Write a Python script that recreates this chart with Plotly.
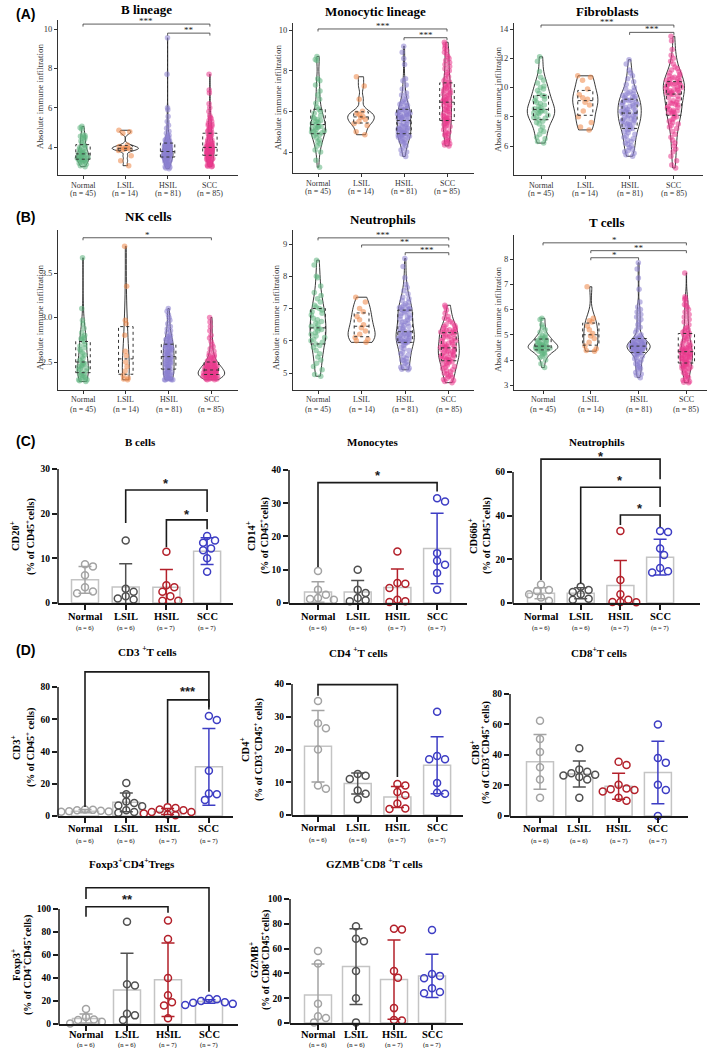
import numpy as np
import plotly.graph_objects as go

W, H = 709, 1048
GROUPS = ["Normal", "LSIL", "HSIL", "SCC"]
N_VIOLIN = ["(n = 45)", "(n = 14)", "(n = 81)", "(n = 85)"]
N_BAR = ["(n = 6)", "(n = 6)", "(n = 7)", "(n = 7)"]

VIOLIN_COLORS = ["#5fb47f", "#ef8747", "#8a7fd0", "#e9388c"]
BAR_COLORS = ["#a3a3a3", "#505050", "#b3202a", "#3d3dc4"]

# ---------------- Violin data (absolute immune infiltration) ----------------
BL_NORMAL = [5.05, 4.98, 4.9, 4.62, 4.58, 4.55, 4.5, 4.45, 4.38, 4.3, 4.2, 4.12, 4.05, 4.0, 3.95, 3.9, 3.85, 3.8,
             3.76, 3.72, 3.7, 3.68, 3.65, 3.62, 3.6, 3.58, 3.55, 3.52, 3.5, 3.48, 3.45, 3.43, 3.4, 3.38, 3.36, 3.34,
             3.32, 3.3, 3.28, 3.25, 3.22, 3.18, 3.12, 3.05, 3.0]
BL_LSIL = [4.85, 4.78, 4.7, 4.1, 4.02, 3.98, 3.95, 3.92, 3.9, 3.87, 3.82, 3.55, 3.3, 3.05]
BL_HSIL = [9.55, 7.7, 6.0, 5.9, 5.55, 5.3, 5.1, 4.95, 4.8, 4.7, 4.6, 4.55, 4.5, 4.45, 4.4, 4.35, 4.3, 4.28, 4.25,
           4.22, 4.2, 4.18, 4.15, 4.12, 4.1, 4.08, 4.05, 4.02, 4.0, 3.98, 3.95, 3.92, 3.9, 3.88, 3.85, 3.83, 3.82,
           3.8, 3.8, 3.78, 3.77, 3.76, 3.74, 3.72, 3.7, 3.68, 3.66, 3.64, 3.62, 3.6, 3.58, 3.57, 3.56, 3.55, 3.54,
           3.53, 3.52, 3.51, 3.5, 3.5, 3.49, 3.45, 3.4, 3.38, 3.35, 3.3, 3.28, 3.25, 3.2, 3.15, 3.1, 3.08, 3.05,
           3.0, 2.97, 2.93, 2.9, 3.45, 3.35, 3.22, 3.12]
BL_SCC = [7.7, 6.9, 6.75, 6.2, 6.0, 5.8, 5.6, 5.5, 5.45, 5.35, 5.3, 5.2, 5.15, 5.1, 5.05, 5.0, 4.95, 4.9, 4.85,
          4.8, 4.75, 4.7, 4.65, 4.6, 4.55, 4.5, 4.45, 4.4, 4.35, 4.3, 4.25, 4.2, 4.18, 4.15, 4.12, 4.1, 4.08, 4.05,
          4.03, 4.02, 4.01, 4.0, 3.98, 3.96, 3.94, 3.92, 3.9, 3.88, 3.86, 3.84, 3.82, 3.8, 3.78, 3.76, 3.74, 3.72,
          3.7, 3.68, 3.66, 3.64, 3.62, 3.61, 3.6, 3.58, 3.55, 3.52, 3.5, 3.48, 3.45, 3.42, 3.4, 3.38, 3.35, 3.32,
          3.3, 3.28, 3.25, 3.2, 3.15, 3.12, 3.1, 3.07, 3.04, 3.02, 3.0]

MO_NORMAL = [8.7, 8.55, 8.5, 7.6, 7.5, 7.3, 7.0, 6.8, 6.6, 6.4, 6.2, 6.1, 6.0, 5.9, 5.8, 5.7, 5.65, 5.6, 5.55, 5.5,
             5.45, 5.4, 5.35, 5.28, 5.25, 5.2, 5.18, 5.15, 5.1, 5.05, 5.0, 4.98, 4.95, 4.9, 4.85, 4.8, 4.7, 4.6,
             4.5, 4.4, 4.3, 4.1, 4.0, 3.6, 3.25]
MO_LSIL = [7.7, 7.25, 6.6, 6.0, 5.9, 5.85, 5.75, 5.7, 5.6, 5.5, 5.4, 5.3, 5.0, 4.85]
MO_HSIL = [9.2, 8.9, 8.6, 8.3, 7.6, 7.5, 7.3, 7.1, 6.9, 6.8, 6.7, 6.6, 6.5, 6.45, 6.4, 6.35, 6.3, 6.25, 6.2, 6.15,
           6.1, 6.08, 6.05, 6.0, 5.98, 5.95, 5.92, 5.9, 5.87, 5.85, 5.82, 5.8, 5.78, 5.75, 5.72, 5.7, 5.68, 5.65,
           5.62, 5.6, 5.55, 5.5, 5.45, 5.4, 5.35, 5.3, 5.27, 5.25, 5.2, 5.17, 5.15, 5.12, 5.1, 5.07, 5.05, 5.02,
           5.0, 4.97, 4.95, 4.92, 4.9, 4.88, 4.85, 4.82, 4.8, 4.77, 4.75, 4.72, 4.7, 4.65, 4.6, 4.55, 4.5, 4.45,
           4.4, 4.3, 4.2, 4.1, 4.0, 3.9, 3.78]
MO_SCC = [9.4, 9.3, 9.2, 9.1, 9.0, 8.9, 8.8, 8.7, 8.6, 8.5, 8.4, 8.3, 8.2, 8.1, 8.0, 7.9, 7.8, 7.7, 7.6, 7.5, 7.45,
          7.4, 7.35, 7.3, 7.25, 7.2, 7.15, 7.1, 7.05, 7.0, 6.95, 6.9, 6.85, 6.8, 6.75, 6.7, 6.65, 6.6, 6.57, 6.54,
          6.52, 6.5, 6.45, 6.4, 6.35, 6.3, 6.25, 6.2, 6.15, 6.1, 6.05, 6.0, 5.95, 5.9, 5.85, 5.8, 5.75, 5.7, 5.67,
          5.65, 5.62, 5.6, 5.58, 5.55, 5.5, 5.45, 5.4, 5.35, 5.3, 5.25, 5.2, 5.1, 5.0, 4.95, 4.9, 4.85, 4.8, 4.7,
          4.6, 4.55, 4.5, 4.45, 4.4, 4.35, 4.3]

FB_NORMAL = [12.1, 11.8, 11.1, 10.7, 10.5, 10.3, 10.1, 10.0, 9.9, 9.8, 9.6, 9.45, 9.4, 9.3, 9.2, 9.1, 9.0, 8.9,
             8.8, 8.7, 8.6, 8.55, 8.5, 8.45, 8.4, 8.35, 8.3, 8.25, 8.2, 8.1, 8.0, 7.95, 7.9, 7.8, 7.7, 7.6, 7.5,
             7.3, 7.1, 7.0, 6.8, 6.6, 6.5, 6.3, 6.2]
FB_LSIL = [10.8, 10.7, 10.5, 9.9, 9.5, 9.3, 9.2, 9.0, 8.8, 8.4, 8.0, 7.6, 7.3, 7.1]
FB_HSIL = [11.9, 11.6, 11.2, 11.0, 10.8, 10.6, 10.4, 10.2, 10.0, 9.9, 9.8, 9.7, 9.6, 9.55, 9.5, 9.45, 9.4, 9.35,
           9.3, 9.25, 9.2, 9.15, 9.1, 9.05, 9.0, 8.95, 8.9, 8.85, 8.8, 8.75, 8.7, 8.65, 8.6, 8.55, 8.5, 8.45, 8.4,
           8.37, 8.33, 8.3, 8.25, 8.2, 8.15, 8.1, 8.05, 8.0, 7.95, 7.9, 7.85, 7.8, 7.75, 7.7, 7.65, 7.6, 7.55,
           7.5, 7.45, 7.4, 7.35, 7.3, 7.2, 7.15, 7.1, 7.0, 6.9, 6.8, 6.7, 6.6, 6.5, 6.4, 6.3, 6.2, 6.1, 6.0, 5.9,
           5.8, 5.7, 5.6, 5.5, 5.4, 5.3]
FB_SCC = [13.5, 13.2, 12.6, 12.2, 12.0, 11.8, 11.6, 11.4, 11.3, 11.2, 11.1, 11.0, 10.9, 10.8, 10.75, 10.7, 10.65,
          10.6, 10.55, 10.5, 10.45, 10.4, 10.35, 10.3, 10.28, 10.25, 10.2, 10.17, 10.15, 10.1, 10.05, 10.0, 9.95,
          9.9, 9.85, 9.8, 9.77, 9.74, 9.7, 9.66, 9.63, 9.6, 9.55, 9.5, 9.4, 9.3, 9.2, 9.1, 9.0, 8.95, 8.9, 8.85,
          8.8, 8.7, 8.65, 8.6, 8.5, 8.45, 8.4, 8.35, 8.3, 8.25, 8.2, 8.1, 8.0, 7.9, 7.8, 7.7, 7.6, 7.5, 7.4, 7.3,
          7.2, 7.0, 6.8, 6.6, 6.4, 6.2, 6.0, 5.8, 5.6, 5.3, 5.0, 4.7, 4.5]

NK_NORMAL = [3.67, 3.1, 2.97, 2.93, 2.88, 2.83, 2.8, 2.78, 2.77, 2.76, 2.75, 2.73, 2.7, 2.68, 2.66, 2.64, 2.62, 2.6,
             2.58, 2.56, 2.54, 2.52, 2.5, 2.49, 2.48, 2.47, 2.46, 2.45, 2.44, 2.43, 2.42, 2.41, 2.4, 2.38, 2.37,
             2.36, 2.35, 2.34, 2.33, 2.32, 2.31, 2.3, 2.3, 2.29, 2.28]
NK_LSIL = [3.8, 3.35, 2.97, 2.93, 2.8, 2.62, 2.57, 2.5, 2.45, 2.4, 2.35, 2.32, 2.31, 2.3]
NK_HSIL = [3.1, 3.07, 3.03, 3.0, 2.97, 2.93, 2.9, 2.87, 2.85, 2.83, 2.8, 2.79, 2.78, 2.77, 2.76, 2.75, 2.74, 2.73,
           2.72, 2.71, 2.7, 2.69, 2.69, 2.68, 2.67, 2.67, 2.66, 2.65, 2.65, 2.64, 2.63, 2.62, 2.62, 2.61, 2.6, 2.6,
           2.59, 2.58, 2.57, 2.57, 2.56, 2.55, 2.55, 2.54, 2.53, 2.52, 2.52, 2.51, 2.5, 2.5, 2.49, 2.48, 2.47,
           2.47, 2.46, 2.45, 2.45, 2.44, 2.43, 2.42, 2.42, 2.41, 2.4, 2.4, 2.39, 2.38, 2.37, 2.37, 2.36, 2.35,
           2.35, 2.34, 2.33, 2.32, 2.32, 2.31, 2.31, 2.3, 2.3, 2.3, 2.3]
NK_SCC = [3.0, 2.95, 2.9, 2.85, 2.8, 2.77, 2.73, 2.7, 2.67, 2.65, 2.62, 2.6, 2.58, 2.57, 2.56, 2.55, 2.54, 2.53,
          2.52, 2.51, 2.5, 2.5, 2.49, 2.49, 2.48, 2.48, 2.47, 2.47, 2.46, 2.46, 2.45, 2.45, 2.45, 2.44, 2.44, 2.44,
          2.43, 2.43, 2.43, 2.42, 2.42, 2.42, 2.41, 2.41, 2.41, 2.4, 2.4, 2.4, 2.4, 2.39, 2.39, 2.39, 2.39, 2.38,
          2.38, 2.38, 2.38, 2.37, 2.37, 2.37, 2.37, 2.36, 2.36, 2.36, 2.36, 2.35, 2.35, 2.35, 2.35, 2.34, 2.34,
          2.34, 2.34, 2.33, 2.33, 2.33, 2.33, 2.32, 2.32, 2.32, 2.31, 2.31, 2.31, 2.3, 2.3]

NE_NORMAL = [8.5, 8.35, 8.0, 7.95, 7.7, 7.5, 7.4, 7.3, 7.2, 7.1, 7.05, 7.0, 6.95, 6.9, 6.85, 6.8, 6.7, 6.65, 6.6,
             6.55, 6.5, 6.45, 6.4, 6.38, 6.35, 6.3, 6.25, 6.2, 6.15, 6.1, 6.05, 6.0, 5.95, 5.9, 5.85, 5.8, 5.7, 5.6,
             5.5, 5.4, 5.3, 5.2, 5.1, 4.95, 4.9]
NE_LSIL = [7.35, 7.2, 7.0, 6.9, 6.75, 6.65, 6.5, 6.4, 6.3, 6.2, 6.1, 6.05, 6.0, 5.95]
NE_HSIL = [8.55, 8.3, 7.95, 7.75, 7.65, 7.55, 7.45, 7.35, 7.3, 7.25, 7.2, 7.15, 7.1, 7.08, 7.05, 7.02, 7.0, 6.98,
           6.97, 6.96, 6.95, 6.9, 6.87, 6.84, 6.8, 6.77, 6.74, 6.7, 6.67, 6.64, 6.6, 6.57, 6.54, 6.5, 6.47, 6.44,
           6.4, 6.37, 6.34, 6.3, 6.28, 6.26, 6.24, 6.22, 6.2, 6.18, 6.16, 6.14, 6.12, 6.1, 6.08, 6.06, 6.04, 6.02,
           6.0, 5.99, 5.98, 5.97, 5.96, 5.95, 5.95, 5.9, 5.85, 5.8, 5.75, 5.7, 5.65, 5.6, 5.55, 5.5, 5.45, 5.4,
           5.38, 5.35, 5.3, 5.25, 5.2, 5.18, 5.15, 5.12, 5.1]
NE_SCC = [7.1, 7.05, 6.95, 6.85, 6.75, 6.7, 6.65, 6.6, 6.55, 6.5, 6.47, 6.44, 6.41, 6.38, 6.36, 6.34, 6.32, 6.3,
          6.28, 6.27, 6.26, 6.25, 6.22, 6.2, 6.18, 6.15, 6.12, 6.1, 6.08, 6.05, 6.02, 6.0, 5.98, 5.95, 5.93, 5.9,
          5.88, 5.86, 5.84, 5.82, 5.81, 5.8, 5.78, 5.76, 5.74, 5.72, 5.7, 5.68, 5.66, 5.64, 5.62, 5.6, 5.58, 5.56,
          5.54, 5.52, 5.5, 5.48, 5.46, 5.44, 5.42, 5.41, 5.4, 5.38, 5.35, 5.32, 5.3, 5.27, 5.24, 5.2, 5.17, 5.14,
          5.1, 5.07, 5.04, 5.0, 4.97, 4.94, 4.9, 4.87, 4.84, 4.8, 4.77, 4.74, 4.7]

TC_NORMAL = [5.65, 5.6, 5.4, 5.3, 5.2, 5.1, 5.0, 4.95, 4.9, 4.88, 4.86, 4.83, 4.8, 4.77, 4.74, 4.71, 4.68, 4.65,
             4.63, 4.61, 4.59, 4.57, 4.55, 4.54, 4.53, 4.52, 4.51, 4.5, 4.49, 4.48, 4.46, 4.44, 4.42, 4.4, 4.38,
             4.35, 4.32, 4.28, 4.25, 4.2, 4.15, 4.1, 4.0, 3.85, 3.7]
TC_LSIL = [6.9, 5.65, 5.55, 5.5, 5.35, 5.2, 5.05, 4.95, 4.85, 4.7, 4.55, 4.45, 4.38, 4.35]
TC_HSIL = [7.85, 7.6, 7.25, 6.8, 6.3, 6.1, 6.0, 5.9, 5.8, 5.7, 5.6, 5.5, 5.4, 5.3, 5.2, 5.1, 5.0, 4.95, 4.9, 4.87,
           4.85, 4.83, 4.81, 4.79, 4.77, 4.75, 4.73, 4.71, 4.69, 4.67, 4.65, 4.64, 4.63, 4.62, 4.61, 4.6, 4.59,
           4.58, 4.57, 4.56, 4.55, 4.54, 4.53, 4.52, 4.51, 4.5, 4.49, 4.48, 4.47, 4.46, 4.45, 4.44, 4.42, 4.4,
           4.39, 4.37, 4.35, 4.34, 4.33, 4.32, 4.3, 4.28, 4.25, 4.22, 4.2, 4.15, 4.1, 4.05, 4.0, 3.95, 3.9, 3.85,
           3.8, 3.75, 3.7, 3.65, 3.6, 3.5, 3.45, 3.4, 3.3]
TC_SCC = [7.45, 6.5, 6.45, 6.4, 6.3, 6.2, 6.15, 6.1, 6.0, 5.9, 5.8, 5.7, 5.6, 5.5, 5.4, 5.3, 5.25, 5.2, 5.15, 5.1,
          5.07, 5.05, 5.0, 4.95, 4.9, 4.85, 4.8, 4.75, 4.7, 4.65, 4.6, 4.57, 4.54, 4.51, 4.48, 4.46, 4.44, 4.42,
          4.4, 4.38, 4.36, 4.35, 4.33, 4.31, 4.29, 4.27, 4.25, 4.23, 4.21, 4.19, 4.17, 4.15, 4.13, 4.11, 4.09,
          4.07, 4.05, 4.03, 4.0, 3.98, 3.95, 3.93, 3.9, 3.88, 3.85, 3.82, 3.8, 3.77, 3.75, 3.72, 3.7, 3.67, 3.65,
          3.6, 3.55, 3.5, 3.45, 3.4, 3.35, 3.3, 3.25, 3.2, 3.15, 3.12, 3.1]

# ---------------- Bar data (flow cytometry, mean / SD / individual samples) ----------------
BCELL_MEAN = [5.2, 3.6, 3.5, 11.6]
BCELL_SD = [3.0, 5.2, 4.0, 3.0]
BCELL_PTS = [[8.7, 8.2, 6.2, 3.5, 2.2, 2.6], [14.0, 3.2, 2.5, 1.5, 1.0, 0.8],
             [11.5, 4.0, 3.5, 2.5, 1.5, 0.5, 0.5], [15.0, 14.0, 13.5, 12.2, 11.8, 10.0, 7.0]]
MONO_MEAN = [3.3, 3.3, 4.7, 16.4]
MONO_SD = [3.1, 3.5, 5.5, 10.6]
MONO_PTS = [[9.6, 4.0, 2.5, 1.5, 1.0, 1.2], [10.0, 4.0, 3.0, 1.5, 0.8, 0.5],
            [15.5, 6.0, 5.8, 4.5, 1.0, 0.5, 0.3], [31.5, 30.5, 15.0, 12.7, 11.5, 9.0, 4.0]]
NEUT_MEAN = [4.5, 4.5, 8.0, 21.0]
NEUT_SD = [2.5, 2.5, 11.5, 8.2]
NEUT_PTS = [[8.5, 6.0, 5.5, 4.0, 2.5, 1.0], [7.5, 6.0, 5.0, 4.0, 2.0, 1.5],
            [33.0, 10.5, 4.0, 1.5, 0.5, 0.5, 0.3], [33.0, 32.5, 25.0, 22.0, 16.0, 14.5, 14.0]]
CD3_MEAN = [3.0, 8.5, 2.8, 30.5]
CD3_SD = [1.0, 5.8, 1.8, 23.8]
CD3_PTS = [[4.0, 3.6, 3.3, 3.0, 2.6, 2.2, 3.8, 2.8], [20.5, 13.5, 9.0, 8.0, 6.5, 6.0, 3.5, 2.5, 2.0],
           [5.5, 5.0, 4.0, 3.5, 2.5, 2.5, 1.5, 1.0, 0.5], [62.0, 59.5, 28.0, 14.0, 13.5, 10.0]]
CD4_MEAN = [21.0, 9.6, 5.5, 15.2]
CD4_SD = [10.9, 3.2, 3.2, 8.7]
CD4_PTS = [[34.8, 28.0, 26.5, 20.0, 9.0, 8.0], [12.5, 12.0, 11.0, 7.5, 6.5, 4.8],
           [9.5, 9.0, 7.0, 6.0, 3.5, 2.0, 1.8], [31.5, 18.0, 17.0, 17.0, 9.8, 6.8, 6.5]]
CD8_MEAN = [35.5, 27.5, 19.5, 28.5]
CD8_SD = [18.0, 8.5, 8.5, 20.5]
CD8_PTS = [[62.5, 50.5, 42.0, 32.0, 24.0, 12.0], [44.5, 30.5, 29.0, 28.0, 27.0, 26.5, 25.5, 24.0, 12.0],
           [35.5, 33.5, 20.5, 18.0, 17.5, 17.0, 16.0, 12.0, 10.0], [60.0, 38.0, 35.0, 20.5, 17.0, 0.0]]
FOXP3_MEAN = [4.8, 29.5, 38.5, 19.5]
FOXP3_SD = [4.0, 32.0, 32.0, 1.5]
FOXP3_PTS = [[13.0, 6.0, 4.0, 3.5, 2.0, 0.5], [89.0, 34.5, 33.5, 9.0, 7.5, 3.5],
             [90.0, 74.0, 40.0, 25.0, 19.0, 16.0, 5.0], [22.0, 21.5, 20.0, 19.0, 18.5, 17.5, 16.5]]
GZMB_MEAN = [22.5, 45.5, 35.0, 38.0]
GZMB_SD = [25.0, 30.5, 32.0, 17.5]
GZMB_PTS = [[58.0, 48.0, 15.5, 5.5, 4.0, 0.5], [78.0, 68.0, 66.0, 42.0, 20.0, 0.5],
            [76.0, 75.5, 42.0, 36.5, 12.0, 2.5, 2.0], [75.0, 39.5, 38.0, 36.0, 28.0, 24.0, 25.0]]

SERIF = "Liberation Serif"
SANS = "Liberation Sans"

# ---------------- Panel layout (pixel calibration) ----------------
VIOLIN_PANELS = [
    dict(title="B lineage", data=[BL_NORMAL, BL_LSIL, BL_HSIL, BL_SCC], ax=58, end=238, cat0=83, sp=42.3,
         cal=((10, 29), (4, 147)), dom=(20, 175), ticks=[4, 6, 8, 10], fmt="d",
         br=[(0, 3, 10.25, "***"), (2, 3, 9.79, "**")], tpos=(146, 9), ypos=(40, 97)),
    dict(title="Monocytic lineage", data=[MO_NORMAL, MO_LSIL, MO_HSIL, MO_SCC], ax=293, end=474, cat0=318, sp=43,
         cal=((10, 30), (4, 152)), dom=(23, 173), ticks=[4, 6, 8, 10], fmt="d",
         br=[(0, 3, 10.05, "***"), (2, 3, 9.62, "***")], tpos=(376, 11), ypos=(278, 98)),
    dict(title="Fibroblasts", data=[FB_NORMAL, FB_LSIL, FB_HSIL, FB_SCC], ax=514, end=703, cat0=541, sp=44.3,
         cal=((14, 29), (6, 146)), dom=(23, 175), ticks=[6, 8, 10, 12, 14], fmt="d",
         br=[(0, 3, 14.27, "***"), (2, 3, 13.77, "***")], tpos=(607, 11), ypos=(498, 100)),
    dict(title="NK cells", data=[NK_NORMAL, NK_LSIL, NK_HSIL, NK_SCC], ax=58, end=238, cat0=83, sp=42.8,
         cal=((3.5, 273), (2.5, 362)), dom=(230, 390), ticks=[2.5, 3.0, 3.5], fmt=".1f",
         br=[(0, 3, 3.896, "*")], tpos=(148, 217), ypos=(40, 318)),
    dict(title="Neutrophils", data=[NE_NORMAL, NE_LSIL, NE_HSIL, NE_SCC], ax=293, end=474, cat0=318, sp=43.6,
         cal=((9, 244), (5, 373)), dom=(230, 390), ticks=[5, 6, 7, 8, 9], fmt="d",
         br=[(0, 3, 9.19, "***"), (1, 3, 8.97, "**"), (2, 3, 8.73, "***")], tpos=(383, 219), ypos=(276, 318)),
    dict(title="T cells", data=[TC_NORMAL, TC_LSIL, TC_HSIL, TC_SCC], ax=514, end=707, cat0=543, sp=47.8,
         cal=((8, 259), (4, 360)), dom=(235, 390), ticks=[3, 4, 5, 6, 7, 8], fmt="d",
         br=[(0, 3, 8.64, "*"), (1, 3, 8.33, "**"), (1, 2, 8.05, "*")], tpos=(607, 222), ypos=(498, 320)),
]

BAR_PANELS = [
    dict(title="B cells", mean=BCELL_MEAN, sd=BCELL_SD, pts=BCELL_PTS, ax=58, end=233, cat0=85, sp=40.7,
         zero=603, top=(30, 469), rmax=30.5, ticks=[0, 10, 20, 30], lab=(13, 25),
         ytitle=("CD20<sup>+</sup>", "(% of CD45<sup>+</sup>cells)"), ypos=(14, 30, 536), tpos=(140, 442),
         br=[(1, 3, 25.3, 17.9, 20.4, "*", 27.5), (2, 3, 18.6, 12.5, 16.5, "*", 20.5)]),
    dict(title="Monocytes", mean=MONO_MEAN, sd=MONO_SD, pts=MONO_PTS, ax=289, end=467, cat0=318, sp=39.7,
         zero=603, top=(40, 470), rmax=40.5, ticks=[0, 10, 20, 30, 40], lab=(13, 25),
         ytitle=("CD14<sup>+</sup>", "(% of CD45<sup>+</sup>cells)"), ypos=(250, 264, 536), tpos=(373, 442),
         br=[(0, 3, 36.2, 10.8, 33.5, "*", 39.2)]),
    dict(title="Neutrophils", mean=NEUT_MEAN, sd=NEUT_SD, pts=NEUT_PTS, ax=513, end=700, cat0=541, sp=39.7,
         zero=603, top=(60, 472), rmax=70, ticks=[0, 20, 40, 60], lab=(13, 25),
         ytitle=("CD66b<sup>+</sup>", "(% of CD45<sup>+</sup>cells)"), ypos=(472, 486, 536), tpos=(597, 442),
         br=[(0, 3, 65.9, 10.5, 56.7, "*", 68.6), (1, 3, 53.0, 9.1, 44.0, "*", 57.7),
             (2, 3, 40.3, 35.7, 34.8, "*", 44.6)]),
    dict(title="CD3 <sup>+</sup>T cells", mean=CD3_MEAN, sd=CD3_SD, pts=CD3_PTS, ax=58, end=233, cat0=85, sp=41.3,
         zero=816, top=(80, 687), rmax=92, ticks=[0, 20, 40, 60, 80], lab=(12, 25),
         ytitle=("CD3<sup>+</sup>", "(% of CD45<sup>+</sup> cells)"), ypos=(15, 30, 747), tpos=(147, 651),
         br=[(0, 3, 89.4, 5.6, 66.0, "*", 96.0), (2, 3, 72.0, 8.0, 67.5, "***", 79.0)]),
    dict(title="CD4 <sup>+</sup>T cells", mean=CD4_MEAN, sd=CD4_SD, pts=CD4_PTS, ax=292, end=463, cat0=318, sp=39.7,
         zero=815, top=(40, 684), rmax=41, ticks=[0, 10, 20, 30, 40], lab=(12, 25),
         ytitle=("CD4<sup>+</sup>", "(% of CD3<sup>+</sup>CD45<sup>+</sup> cells)"), ypos=(244, 258, 750),
         tpos=(358, 652), br=[(0, 2, 39.8, 36.4, 11.6, "*", 42.8)]),
    dict(title="CD8<sup>+</sup>T cells", mean=CD8_MEAN, sd=CD8_SD, pts=CD8_PTS, ax=510, end=688, cat0=540, sp=39.3,
         zero=816, top=(80, 694), rmax=80.5, ticks=[0, 20, 40, 60, 80], lab=(12, 25),
         ytitle=("CD8<sup>+</sup>", "(% of CD3<sup>+</sup>CD45<sup>+</sup> cells)"), ypos=(474, 485, 753),
         tpos=(599, 652), br=[]),
    dict(title="Foxp3<sup>+</sup>CD4<sup>+</sup>Tregs", mean=FOXP3_MEAN, sd=FOXP3_SD, pts=FOXP3_PTS, ax=59, end=238,
         cat0=86, sp=41, zero=1024, top=(100, 909), rmax=120, ticks=[0, 20, 40, 60, 80, 100], lab=(10.5, 20.5),
         ytitle=("Foxp3<sup>+</sup>", "(% of CD4<sup>+</sup>CD45<sup>+</sup>cells)"), ypos=(15, 27, 965),
         tpos=(132, 863), br=[(0, 3, 118.5, 108.7, 28.0, "*", 128.0), (0, 2, 102.0, 93.3, 96.8, "**", 111.0)]),
    dict(title="GZMB<sup>+</sup>CD8 <sup>+</sup>T cells", mean=GZMB_MEAN, sd=GZMB_SD, pts=GZMB_PTS, ax=290, end=463,
         cat0=318, sp=38, zero=1023, top=(100, 899), rmax=100.5, ticks=[0, 20, 40, 60, 80, 100], lab=(11.5, 21.5),
         ytitle=("GZMB<sup>+</sup>", "(% of CD8<sup>+</sup>CD45<sup>+</sup>cells)"), ypos=(253, 265, 960),
         tpos=(375, 863), br=[]),
]

PANEL_LABELS = [("(A)", 25, 14), ("(B)", 25, 217), ("(C)", 25, 441), ("(D)", 25, 650)]


def fx(px):
    return px / W


def fy(py):
    return 1 - py / H


def nrd0(v):
    v = np.asarray(v, float)
    sd = v.std(ddof=1)
    q75, q25 = np.percentile(v, [75, 25])
    lo = min(sd, (q75 - q25) / 1.34) if q75 > q25 else sd
    return 0.9 * lo * len(v) ** -0.2


def peak_density(v, bw):
    v = np.asarray(v, float)
    g = np.linspace(v.min(), v.max(), 300)
    d = np.exp(-0.5 * ((g[:, None] - v[None, :]) / bw) ** 2).sum(1) / (len(v) * bw * np.sqrt(2 * np.pi))
    return d.max()


def swarm(vals, sx, sy, d=7.2):
    vals = np.asarray(vals, float)
    order = np.argsort(-vals)
    placed = []
    offs = np.zeros(len(vals))
    cands = [0.0]
    for m in range(1, 8):
        cands += [m * d * 0.55, -m * d * 0.55]
    for idx in order:
        yp = vals[idx] * sy
        for c in cands:
            if all((c - px) ** 2 + (yp - py) ** 2 >= d * d for px, py in placed):
                break
        placed.append((c, yp))
        offs[idx] = c / sx
    return offs


def txt(x, y, text, size, family=SERIF, color="black", xref="paper", angle=0, xanchor="center"):
    return dict(x=x, y=y, xref=xref, yref="paper", text=text, showarrow=False, xanchor=xanchor,
                yanchor="middle", textangle=angle, font=dict(family=family, size=size, color=color))


fig = go.Figure()
layout = dict(width=W, height=H, margin=dict(l=0, r=0, t=0, b=0), paper_bgcolor="white",
              plot_bgcolor="white", showlegend=False, violinmode="overlay", barmode="overlay")
annotations = []
shapes = []
k = 0

for p in VIOLIN_PANELS:
    k += 1
    xa, ya = f"x{k}", f"y{k}"
    xr = [(p["ax"] - p["cat0"]) / p["sp"], (p["end"] - p["cat0"]) / p["sp"]]
    (v1, p1), (v2, p2) = p["cal"]
    scale = (p2 - p1) / (v1 - v2)
    top, bot = p["dom"]
    yr = [v2 - (bot - p2) / scale, v1 + (p1 - top) / scale]
    bws = [nrd0(v) for v in p["data"]]
    peaks = [peak_density(v, b) for v, b in zip(p["data"], bws)]
    maxw = 0.62
    for i, v in enumerate(p["data"]):
        w = maxw * peaks[i] / max(peaks)
        jit = min(1.0, 17.0 / (w * p["sp"]))
        fig.add_trace(go.Violin(
            x=[i] * len(v), y=v, xaxis=xa, yaxis=ya, width=w, bandwidth=bws[i], spanmode="hard",
            points="all", pointpos=0, jitter=jit, scalemode="width",
            marker=dict(color=VIOLIN_COLORS[i], size=5.5, opacity=0.55, line=dict(width=0)),
            line=dict(color="#222222", width=0.9), fillcolor="rgba(255,255,255,0)",
            box=dict(visible=False), meanline=dict(visible=False), hoverinfo="y"))
        q1, med, q3 = np.percentile(v, [25, 50, 75])
        hw = 0.17
        shapes.append(dict(type="rect", xref=xa, yref=ya, x0=i - hw, x1=i + hw, y0=q1, y1=q3,
                           line=dict(color="#333333", width=1, dash="dot"), layer="above"))
        shapes.append(dict(type="line", xref=xa, yref=ya, x0=i - hw, x1=i + hw, y0=med, y1=med,
                           line=dict(color="#333333", width=1, dash="dot"), layer="above"))
        annotations.append(txt(i, fy(bot + 10), GROUPS[i], 8, color="#333", xref=xa))
        annotations.append(txt(i, fy(bot + 19), N_VIOLIN[i], 8, color="#333", xref=xa))
    tick = 2.5 / scale
    for a, b, yb, lab in p["br"]:
        shapes.append(dict(type="path", xref=xa, yref=ya,
                           path=f"M {a},{yb - tick} L {a},{yb} L {b},{yb} L {b},{yb - tick}",
                           line=dict(color="#333333", width=0.8)))
        annotations.append(dict(x=(a + b) / 2, y=yb, xref=xa, yref=ya, text=lab, showarrow=False,
                                yanchor="bottom", yshift=-4, font=dict(family=SERIF, size=9, color="#222")))
    sfx = "" if k == 1 else str(k)
    layout["xaxis" + sfx] = dict(domain=[fx(p["ax"]), fx(p["end"])], range=xr, anchor=ya,
                                 tickvals=[0, 1, 2, 3], showticklabels=False, showline=True,
                                 linecolor="#333", linewidth=1, ticks="outside", ticklen=3, tickcolor="#333",
                                 showgrid=False, zeroline=False, automargin=False)
    layout["yaxis" + sfx] = dict(domain=[fy(bot), fy(top)], range=yr, anchor=xa, tickvals=p["ticks"],
                                 tickformat=p["fmt"], tickfont=dict(family=SERIF, size=8.5, color="#333"),
                                 showline=True, linecolor="#333", linewidth=1, ticks="outside", ticklen=3,
                                 tickcolor="#333", showgrid=False, zeroline=False, automargin=False)
    annotations.append(txt(fx(p["tpos"][0]), fy(p["tpos"][1]), f"<b>{p['title']}</b>", 13))
    annotations.append(txt(fx(p["ypos"][0]), fy(p["ypos"][1]), "Absolute immune infiltration", 9,
                           color="#333", angle=-90))

for p in BAR_PANELS:
    k += 1
    xa, ya = f"x{k}", f"y{k}"
    xr = [(p["ax"] - p["cat0"]) / p["sp"], (p["end"] - p["cat0"]) / p["sp"]]
    tv, tp = p["top"]
    scale = (p["zero"] - tp) / tv
    top_px = p["zero"] - p["rmax"] * scale
    fig.add_trace(go.Bar(x=[0, 1, 2, 3], y=p["mean"], xaxis=xa, yaxis=ya, width=27.0 / p["sp"],
                         marker=dict(color="white", line=dict(color="#c4c4c4", width=1.5))))
    name_off, n_off = p["lab"]
    for i in range(4):
        pts = p["pts"][i]
        offs = swarm(pts, p["sp"], scale)
        fig.add_trace(go.Scatter(x=i + offs, y=pts, xaxis=xa, yaxis=ya, mode="markers", cliponaxis=False,
                                 marker=dict(symbol="circle-open", size=7, color=BAR_COLORS[i],
                                             line=dict(width=1.5, color=BAR_COLORS[i]))))
        fig.add_trace(go.Scatter(x=[i], y=[p["mean"][i]], xaxis=xa, yaxis=ya, mode="markers",
                                 cliponaxis=False, marker=dict(size=1, color=BAR_COLORS[i], opacity=0),
                                 error_y=dict(type="data", array=[p["sd"][i]], color=BAR_COLORS[i],
                                              thickness=1.5, width=6.5)))
        annotations.append(txt(i, fy(p["zero"] + name_off), f"<b>{GROUPS[i]}</b>", 10.5, xref=xa))
        annotations.append(txt(i, fy(p["zero"] + n_off), N_BAR[i], 6.5, xref=xa))
    for a, b, yt, yl, yrr, lab, ly in p["br"]:
        shapes.append(dict(type="path", xref=xa, yref=ya,
                           path=f"M {a},{yl} L {a},{yt} L {b},{yt} L {b},{yrr}",
                           line=dict(color="#1a1a1a", width=1.6)))
        annotations.append(dict(x=(a + b) / 2, y=ly, xref=xa, yref=ya, text=f"<b>{lab}</b>", showarrow=False,
                                yanchor="middle", yshift=-3, font=dict(family=SANS, size=13, color="#1a1a1a")))
    sfx = str(k)
    layout["xaxis" + sfx] = dict(domain=[fx(p["ax"]), fx(p["end"])], range=xr, anchor=ya,
                                 tickvals=[0, 1, 2, 3], showticklabels=False, showline=True,
                                 linecolor="#1a1a1a", linewidth=1.5, ticks="outside", ticklen=5, tickwidth=1.5,
                                 tickcolor="#1a1a1a", showgrid=False, zeroline=False, automargin=False)
    layout["yaxis" + sfx] = dict(domain=[fy(p["zero"]), fy(top_px)], range=[0, p["rmax"]], anchor=xa,
                                 tickvals=p["ticks"], tickfont=dict(family=SERIF, size=9.5, color="black",
                                                                     weight="bold"),
                                 showline=False, ticks="outside", ticklen=5, tickwidth=1.5, tickcolor="#1a1a1a",
                                 showgrid=False, zeroline=False, automargin=False)
    shapes.append(dict(type="line", xref="paper", yref="paper", x0=fx(p["ax"]), x1=fx(p["ax"]),
                       y0=fy(p["zero"]) - 0.75 / H, y1=fy(tp), line=dict(color="#1a1a1a", width=1.5)))
    annotations.append(txt(fx(p["tpos"][0]), fy(p["tpos"][1]), f"<b>{p['title']}</b>", 11))
    l1, l2 = p["ytitle"]
    x1p, x2p, yc = p["ypos"]
    annotations.append(txt(fx(x1p), fy(yc), f"<b>{l1}</b>", 10.5, angle=-90))
    annotations.append(txt(fx(x2p), fy(yc), f"<b>{l2}</b>", 10, angle=-90))

for lab, x, y in PANEL_LABELS:
    annotations.append(txt(fx(x), fy(y), f"<b>{lab}</b>", 14, family=SANS))

layout["annotations"] = annotations
layout["shapes"] = shapes
fig.update_layout(**layout)
fig.write_html("out.html", config={"displayModeBar": False},
               post_script="document.body.style.margin='0';document.body.style.padding='0';")
